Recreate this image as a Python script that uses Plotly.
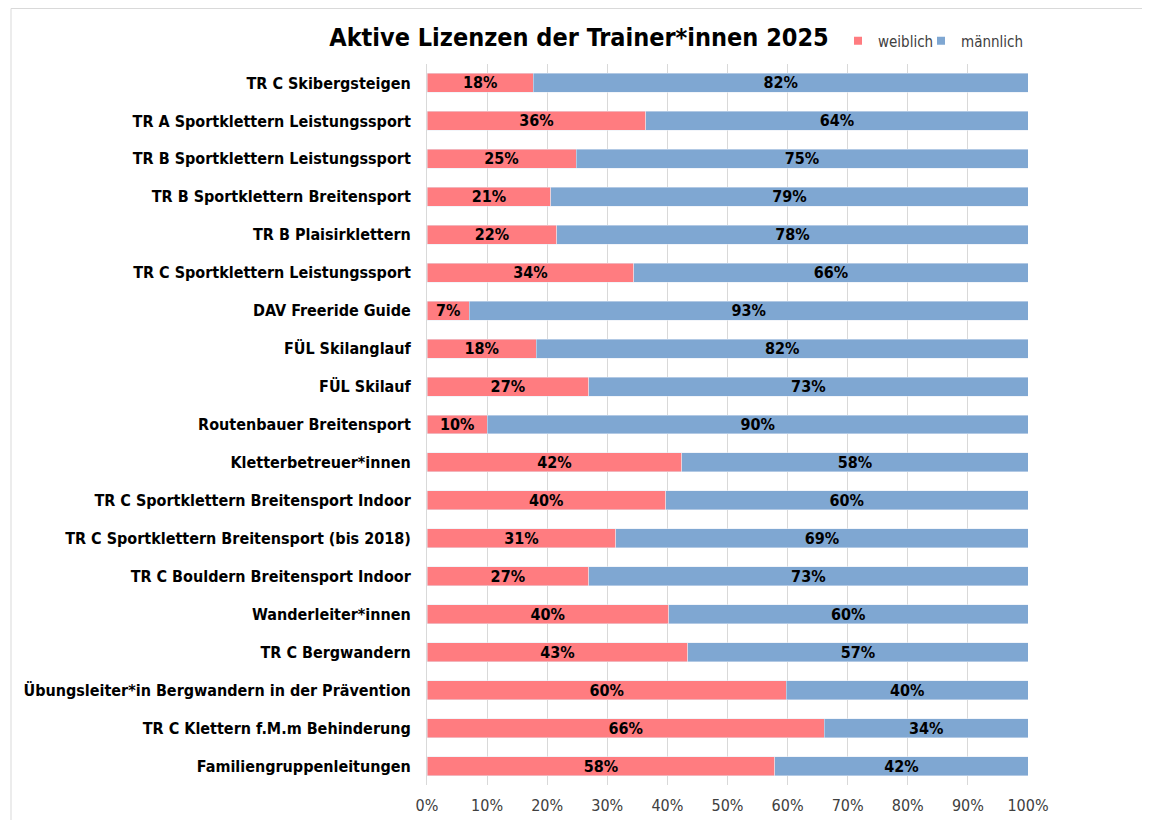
import plotly.graph_objects as go

# ---------Data (top to bottom as in the chart)---------
categories = [
    "TR C Skibergsteigen",
    "TR A Sportklettern Leistungssport",
    "TR B Sportklettern Leistungssport",
    "TR B Sportklettern Breitensport",
    "TR B Plaisirklettern",
    "TR C Sportklettern Leistungssport",
    "DAV Freeride Guide",
    "FÜL Skilanglauf",
    "FÜL Skilauf",
    "Routenbauer Breitensport",
    "Kletterbetreuer*innen",
    "TR C Sportklettern Breitensport Indoor",
    "TR C Sportklettern Breitensport (bis 2018)",
    "TR C Bouldern Breitensport Indoor",
    "Wanderleiter*innen",
    "TR C Bergwandern",
    "Übungsleiter*in Bergwandern in der Prävention",
    "TR C Klettern f.M.m Behinderung",
    "Familiengruppenleitungen",
]
weiblich = [17.7, 36.4, 24.8, 20.6, 21.6, 34.4, 7.05, 18.2, 26.9, 10.05,
            42.4, 39.7, 31.4, 26.9, 40.2, 43.4, 59.8, 66.1, 57.9]
maennlich = [100 - w for w in weiblich]
x_ticks = [0, 10, 20, 30, 40, 50, 60, 70, 80, 90, 100]

# ---------Style---------
RED = "#FF7C80"
BLUE = "#7FA7D2"
FONT = "DejaVu Sans Condensed, Tahoma, DejaVu Sans, sans-serif"

# page body adds an 8px offset, so the figure is a bit smaller
W, H = 1134, 812
ML, MR, MT, MB = 419, 114, 56, 35


def px_x(p):
    return (p - ML) / (W - ML - MR)


def px_y(p):
    return (H - MB - p) / (H - MT - MB)


fig = go.Figure()

for vals, name, col in [(weiblich, "weiblich", RED), (maennlich, "männlich", BLUE)]:
    fig.add_trace(go.Bar(y=categories, x=vals, orientation="h", name=name,
                         marker_color=col, showlegend=False,
                         texttemplate="%{x:.0f}%", textposition="inside",
                         insidetextanchor="middle",
                         insidetextfont=dict(family=FONT, size=16, color="black", weight="bold")))

# legend entries with small square markers, one legend each so they sit like the original
fig.add_trace(go.Scatter(x=[None], y=[None], mode="markers", name="weiblich",
                         marker=dict(symbol="square", size=8, color=RED), legend="legend"))
fig.add_trace(go.Scatter(x=[None], y=[None], mode="markers", name="männlich",
                         marker=dict(symbol="square", size=8, color=BLUE), legend="legend2"))

leg = dict(orientation="h", y=px_y(33), xanchor="left", yanchor="middle",
           font=dict(family=FONT, size=15, color="#404040"),
           itemwidth=30, bgcolor="rgba(0,0,0,0)")

fig.update_layout(
    width=W, height=H,
    barmode="stack", bargap=0.5,
    plot_bgcolor="white", paper_bgcolor="white",
    margin=dict(l=ML, r=MR, t=MT, b=MB),
    font=dict(family=FONT, color="#404040"),
    title=dict(text="<b>Aktive Lizenzen der Trainer*innen 2025</b>",
               x=px_x(571), xref="paper", xanchor="center",
               y=1 - 29 / H, yanchor="middle",
               font=dict(family=FONT, size=25, color="black")),
    legend=dict(leg, x=px_x(830)),
    legend2=dict(leg, x=px_x(913)),
    uniformtext=dict(mode="show", minsize=16),
)

fig.update_xaxes(range=[0, 100], tickvals=x_ticks, ticktext=[f"{t}%" for t in x_ticks],
                 showgrid=True, gridcolor="#D9D9D9", gridwidth=1, zeroline=False,
                 showline=False, ticklabelstandoff=9, automargin=False,
                 tickfont=dict(family=FONT, size=16, color="#404040"))
fig.update_yaxes(autorange="reversed", showgrid=False, showline=True, linecolor="#D9D9D9",
                 ticks="", ticklabelstandoff=12, automargin=False,
                 tickfont=dict(family=FONT, size=16, color="black", weight="bold"))

# frame of the original chart (top and left edges)
fig.add_shape(type="line", xref="paper", yref="paper",
              x0=px_x(3), x1=px_x(W), y0=px_y(0.5), y1=px_y(0.5),
              line=dict(color="#D9D9D9", width=1))
fig.add_shape(type="line", xref="paper", yref="paper",
              x0=px_x(3), x1=px_x(3), y0=px_y(0.5), y1=px_y(H),
              line=dict(color="#D9D9D9", width=1))

fig.write_html("out.html")
